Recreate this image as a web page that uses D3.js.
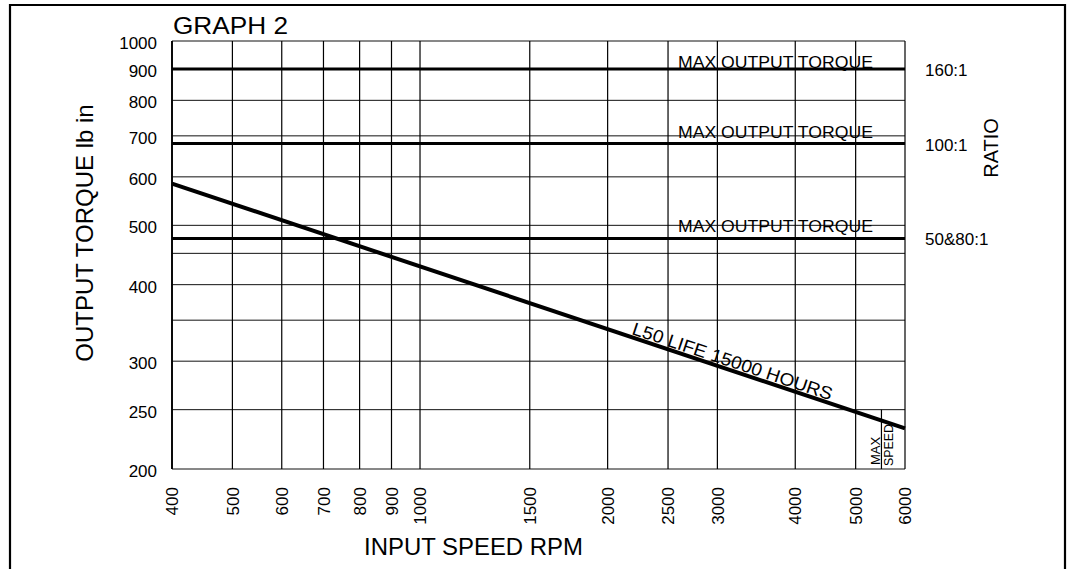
<!DOCTYPE html>
<html>
<head>
<meta charset="utf-8">
<script src="https://cdn.jsdelivr.net/npm/d3@7"></script>
<style>
  html, body { margin: 0; padding: 0; background: #fff; }
  svg { display: block; font-family: "Liberation Sans", Arial, Helvetica, sans-serif; }
</style>
</head>
<body>
<svg id="chart" width="1073" height="569"></svg>
<script>
// ---- data ----
const xTicks = [400, 500, 600, 700, 800, 900, 1000, 1500, 2000, 2500, 3000, 4000, 5000, 6000];
const yGrid = [200, 250, 300, 350, 400, 450, 500, 600, 700, 800, 900, 1000];
const yTickLabels = [200, 250, 300, 400, 500, 600, 700, 800, 900, 1000];
const ratioLabels = ["160:1", "100:1", "50&80:1"];
const maxTorque = [900, 680, 476];
const lifeSpeed = [400, 6000];
const lifeTorque = [585, 233];
const maxSpeed = 5500;
const maxSpeedTorque = [200, 250];

// ---- layout ----
const W = 1073, H = 569;
const plot = { left: 172, right: 905, top: 41, bottom: 469 };
const svg = d3.select("#chart");

const x = d3.scaleLog().domain([400, 6000]).range([plot.left, plot.right]);
const y = d3.scaleLog().domain([200, 1000]).range([plot.bottom, plot.top]);

// outer frame
svg.append("path")
  .attr("d", `M10,${H} L10,5 L1065,5 L1065,${H}`)
  .attr("fill", "none").attr("stroke", "#000").attr("stroke-width", 2.2);

// grid
const g = svg.append("g");
g.selectAll("line.h").data(yGrid).join("line")
  .attr("x1", plot.left).attr("x2", plot.right)
  .attr("y1", d => y(d)).attr("y2", d => y(d))
  .attr("stroke", "#111").attr("stroke-width", 1);
g.selectAll("line.v").data(xTicks).join("line")
  .attr("y1", plot.top).attr("y2", plot.bottom)
  .attr("x1", d => x(d)).attr("x2", d => x(d))
  .attr("stroke", "#000").attr("stroke-width", 1.2);

// plot border (left slightly heavier)
g.append("line").attr("x1", plot.left).attr("x2", plot.left)
  .attr("y1", plot.top).attr("y2", plot.bottom)
  .attr("stroke", "#000").attr("stroke-width", 1.8);

// y tick labels
svg.append("g").selectAll("text").data(yTickLabels).join("text")
  .attr("x", 157).attr("y", d => y(d) + 2).attr("dy", "0.35em")
  .attr("text-anchor", "end").attr("font-size", 17).text(d => d);

// x tick labels (rotated)
svg.append("g").selectAll("text").data(xTicks).join("text")
  .attr("transform", d => `translate(${x(d)},487) rotate(-90)`)
  .attr("dy", "0.36em")
  .attr("text-anchor", "end").attr("font-size", 17).text(d => d);

// max torque lines
svg.append("g").selectAll("line").data(maxTorque).join("line")
  .attr("x1", plot.left).attr("x2", plot.right)
  .attr("y1", d => y(d)).attr("y2", d => y(d))
  .attr("stroke", "#000").attr("stroke-width", 3);

// "MAX OUTPUT TORQUE" labels
const mtOffset = [-1, -6, -6];
svg.append("g").selectAll("text").data(maxTorque).join("text")
  .attr("x", 678).attr("y", (d, i) => y(d) + mtOffset[i])
  .attr("font-size", 17).attr("textLength", 195).attr("lengthAdjust", "spacingAndGlyphs")
  .text("MAX OUTPUT TORQUE");

// ratio labels
svg.append("g").selectAll("text").data(maxTorque).join("text")
  .attr("x", 925).attr("y", d => y(d) + 1).attr("dy", "0.35em")
  .attr("font-size", 17).text((d, i) => ratioLabels[i]);

// L50 life line
const lifePts = lifeSpeed.map((s, i) => [x(s), y(lifeTorque[i])]);
svg.append("path")
  .attr("d", d3.line()(lifePts))
  .attr("fill", "none").attr("stroke", "#000").attr("stroke-width", 4);

// L50 label along line
const ang = Math.atan2(lifePts[1][1] - lifePts[0][1], lifePts[1][0] - lifePts[0][0]) * 180 / Math.PI;
const lx = 631;
const ly = lifePts[0][1] + (lx - lifePts[0][0]) * (lifePts[1][1] - lifePts[0][1]) / (lifePts[1][0] - lifePts[0][0]);
svg.append("text")
  .attr("transform", `translate(${lx},${ly - 3}) rotate(${ang})`)
  .attr("font-size", 18).attr("textLength", 210).attr("lengthAdjust", "spacingAndGlyphs")
  .text("L50 LIFE 15000 HOURS");

// max speed marker
svg.append("line")
  .attr("x1", x(maxSpeed)).attr("x2", x(maxSpeed))
  .attr("y1", y(maxSpeedTorque[0])).attr("y2", y(maxSpeedTorque[1]))
  .attr("stroke", "#000").attr("stroke-width", 1.2);
svg.append("text")
  .attr("transform", `translate(${x(maxSpeed) - 1},465) rotate(-90)`)
  .attr("font-size", 13).text("MAX");
svg.append("text")
  .attr("transform", `translate(${x(maxSpeed) + 12},466) rotate(-90)`)
  .attr("font-size", 13).attr("textLength", 42).attr("lengthAdjust", "spacingAndGlyphs").text("SPEED");

// titles
svg.append("text").attr("x", 173).attr("y", 34)
  .attr("font-size", 24).attr("textLength", 115).attr("lengthAdjust", "spacingAndGlyphs").text("GRAPH 2");
svg.append("text").attr("x", 364).attr("y", 555)
  .attr("font-size", 24).attr("textLength", 219).attr("lengthAdjust", "spacingAndGlyphs").text("INPUT SPEED RPM");
svg.append("text")
  .attr("transform", "translate(93,233) rotate(-90)")
  .attr("text-anchor", "middle").attr("font-size", 24)
  .text("OUTPUT TORQUE lb in");
svg.append("text")
  .attr("transform", "translate(998,148) rotate(-90)")
  .attr("text-anchor", "middle").attr("font-size", 20)
  .text("RATIO");
</script>
</body>
</html>
